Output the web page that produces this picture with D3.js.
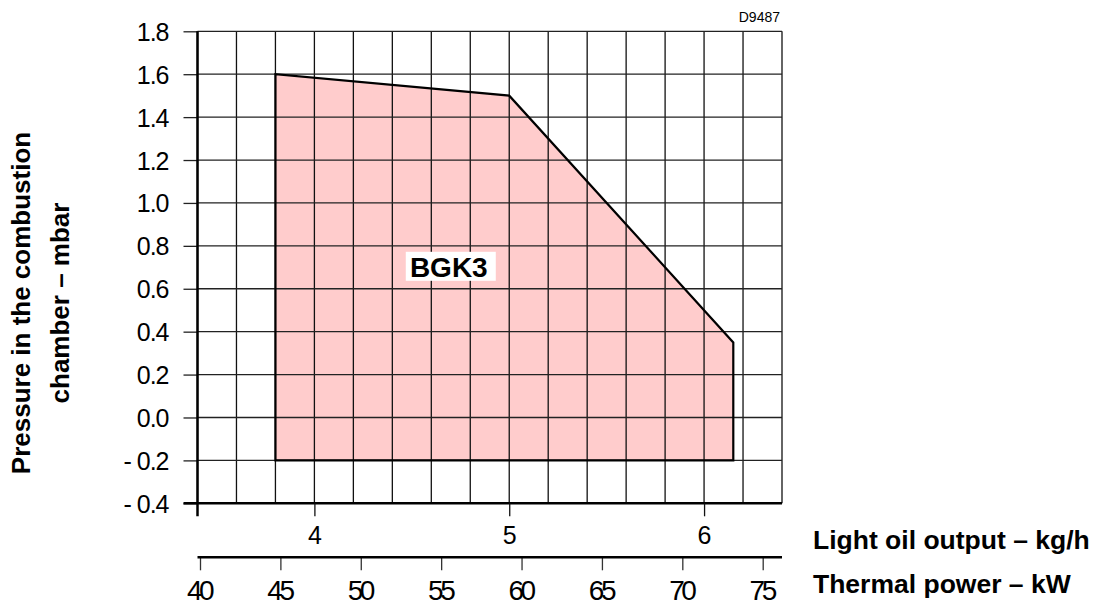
<!DOCTYPE html>
<html>
<head>
    <meta charset="utf-8">
    <script src="https://cdn.jsdelivr.net/npm/d3@7/dist/d3.min.js"></script>
    <style>
        body { margin: 0; background: #ffffff; }
        svg { display: block; font-family: 'Liberation Sans', Arial, sans-serif; }
    </style>
</head>

<body>
<div id="chart"></div>

<script>

    // kg/h along the x axis, mbar along the y axis
    var outputTicks = [4, 5, 6];
    var powerTicks = [40, 45, 50, 55, 60, 65, 70, 75];
    var pressureTicks = [-0.4, -0.2, 0.0, 0.2, 0.4, 0.6, 0.8, 1.0, 1.2, 1.4, 1.6, 1.8];

    // working field of the burner (kg/h, mbar)
    var fieldOutput = [3.8, 3.8, 5.0, 6.15, 6.15];
    var fieldPressure = [-0.2, 1.6, 1.5, 0.35, -0.2];

    var width = 1093;
    var height = 606;

    var svg = d3.select('#chart').append('svg')
        .attr('width', width)
        .attr('height', height);

    var x = d3.scaleLinear().domain([3.4, 6.4]).range([197.5, 782]);
    var y = d3.scaleLinear().domain([-0.4, 1.8]).range([503.3, 31.3]);
    var kw = d3.scaleLinear().domain([40, 75]).range([200, 762.7]);

    var gridX = d3.range(0, 16).map(function(i) { return 3.4 + i * 0.2; });

    // filled working field first, grid goes over it
    var field = fieldOutput.map(function(d, i) { return [x(d), y(fieldPressure[i])]; });

    svg.append('path')
        .attr('d', d3.line()(field) + 'Z')
        .attr('fill', '#ffcccc')
        .attr('stroke', 'none');

    var grid = svg.append('g').attr('class', 'grid');

    grid.selectAll('line.v')
        .data(gridX)
        .enter()
        .append('line')
        .attr('class', 'v')
        .attr('x1', function(d) { return x(d); })
        .attr('x2', function(d) { return x(d); })
        .attr('y1', y(1.8))
        .attr('y2', y(-0.4))
        .attr('stroke', '#111')
        .attr('stroke-width', 1.3);

    grid.selectAll('line.h')
        .data(pressureTicks)
        .enter()
        .append('line')
        .attr('class', 'h')
        .attr('x1', x(3.4))
        .attr('x2', x(6.4))
        .attr('y1', function(d) { return y(d); })
        .attr('y2', function(d) { return y(d); })
        .attr('stroke', '#222')
        .attr('stroke-width', 1.3);

    svg.append('path')
        .attr('d', d3.line()(field) + 'Z')
        .attr('fill', 'none')
        .attr('stroke', '#000')
        .attr('stroke-width', 2.2)
        .attr('stroke-linejoin', 'miter');

    // y axis
    var yAxis = d3.axisLeft(y)
        .tickValues(pressureTicks)
        .tickSize(14)
        .tickSizeOuter(0)
        .tickFormat(function(d) {
            return d < 0 ? '- ' + Math.abs(d).toFixed(1) : d.toFixed(1);
        });

    var gy = svg.append('g')
        .attr('transform', 'translate(' + x(3.4) + ',0)')
        .call(yAxis);
    gy.select('.domain').remove();
    gy.selectAll('.tick line').attr('stroke', '#222').attr('stroke-width', 1.3);
    gy.selectAll('.tick text')
        .attr('x', -29)
        .attr('dy', '0.36em')
        .attr('font-size', 25)
        .attr('letter-spacing', -1)
        .attr('font-family', "'Liberation Sans', Arial, sans-serif")
        .attr('fill', '#000');

    // thick frame lines
    svg.append('line')
        .attr('x1', x(3.4)).attr('x2', x(3.4))
        .attr('y1', y(1.8)).attr('y2', y(-0.4) + 13)
        .attr('stroke', '#000').attr('stroke-width', 2.5);
    svg.append('line')
        .attr('x1', x(3.4) - 14).attr('x2', x(6.4))
        .attr('y1', y(-0.4)).attr('y2', y(-0.4))
        .attr('stroke', '#000').attr('stroke-width', 2.5);

    // kg/h axis
    var xAxis = d3.axisBottom(x)
        .tickValues(outputTicks)
        .tickSize(13)
        .tickSizeOuter(0)
        .tickFormat(d3.format('d'));

    var gx = svg.append('g')
        .attr('transform', 'translate(0,' + y(-0.4) + ')')
        .call(xAxis);
    gx.select('.domain').remove();
    gx.selectAll('.tick line').attr('stroke', '#111').attr('stroke-width', 1.3);
    gx.selectAll('.tick text')
        .attr('y', 32)
        .attr('dy', '0.36em')
        .attr('font-size', 25)
        .attr('font-family', "'Liberation Sans', Arial, sans-serif")
        .attr('fill', '#000');

    // kW axis
    var kwAxis = d3.axisBottom(kw)
        .tickValues(powerTicks)
        .tickSize(13)
        .tickSizeOuter(0);

    var gk = svg.append('g')
        .attr('transform', 'translate(0,557.3)')
        .call(kwAxis);
    gk.select('.domain').remove();
    gk.append('line')
        .attr('x1', x(3.4)).attr('x2', x(6.4))
        .attr('stroke', '#000').attr('stroke-width', 2.5);
    gk.selectAll('.tick line').attr('stroke', '#333').attr('stroke-width', 1.3);
    gk.selectAll('.tick text')
        .attr('y', 33)
        .attr('dy', '0.36em')
        .attr('dx', -1.5)
        .attr('font-size', 28)
        .attr('letter-spacing', -3.5)
        .attr('font-family', "'Liberation Sans', Arial, sans-serif")
        .attr('fill', '#000');

    // field label
    var labelX = x(4.7), labelY = y(0.7) - 0.5;
    svg.append('rect')
        .attr('x', labelX - 45).attr('y', labelY - 15)
        .attr('width', 90).attr('height', 29)
        .attr('fill', '#fff');
    svg.append('text')
        .attr('x', labelX - 2)
        .attr('y', labelY)
        .attr('dy', '0.36em')
        .attr('text-anchor', 'middle')
        .attr('font-size', 28)
        .attr('font-weight', 'bold')
        .text('BGK3');

    // drawing code
    svg.append('text')
        .attr('x', 780)
        .attr('y', 17)
        .attr('dy', '0.35em')
        .attr('text-anchor', 'end')
        .attr('font-size', 14)
        .text('D9487');

    // axis titles
    var yTitle = svg.append('text')
        .attr('transform', 'translate(30,303) rotate(-90)')
        .attr('text-anchor', 'middle')
        .attr('font-size', 26)
        .attr('font-weight', 'bold');
    yTitle.append('tspan').attr('x', 0).attr('dy', 0).text('Pressure in the combustion');
    yTitle.append('tspan').attr('x', 0).attr('dy', 39).text('chamber – mbar');

    svg.append('text')
        .attr('x', 813)
        .attr('y', 540)
        .attr('dy', '0.35em')
        .attr('font-size', 26.5)
        .attr('font-weight', 'bold')
        .text('Light oil output – kg/h');

    svg.append('text')
        .attr('x', 813)
        .attr('y', 584)
        .attr('dy', '0.35em')
        .attr('font-size', 26.5)
        .attr('font-weight', 'bold')
        .text('Thermal power – kW');

</script>
</body>
</html>
